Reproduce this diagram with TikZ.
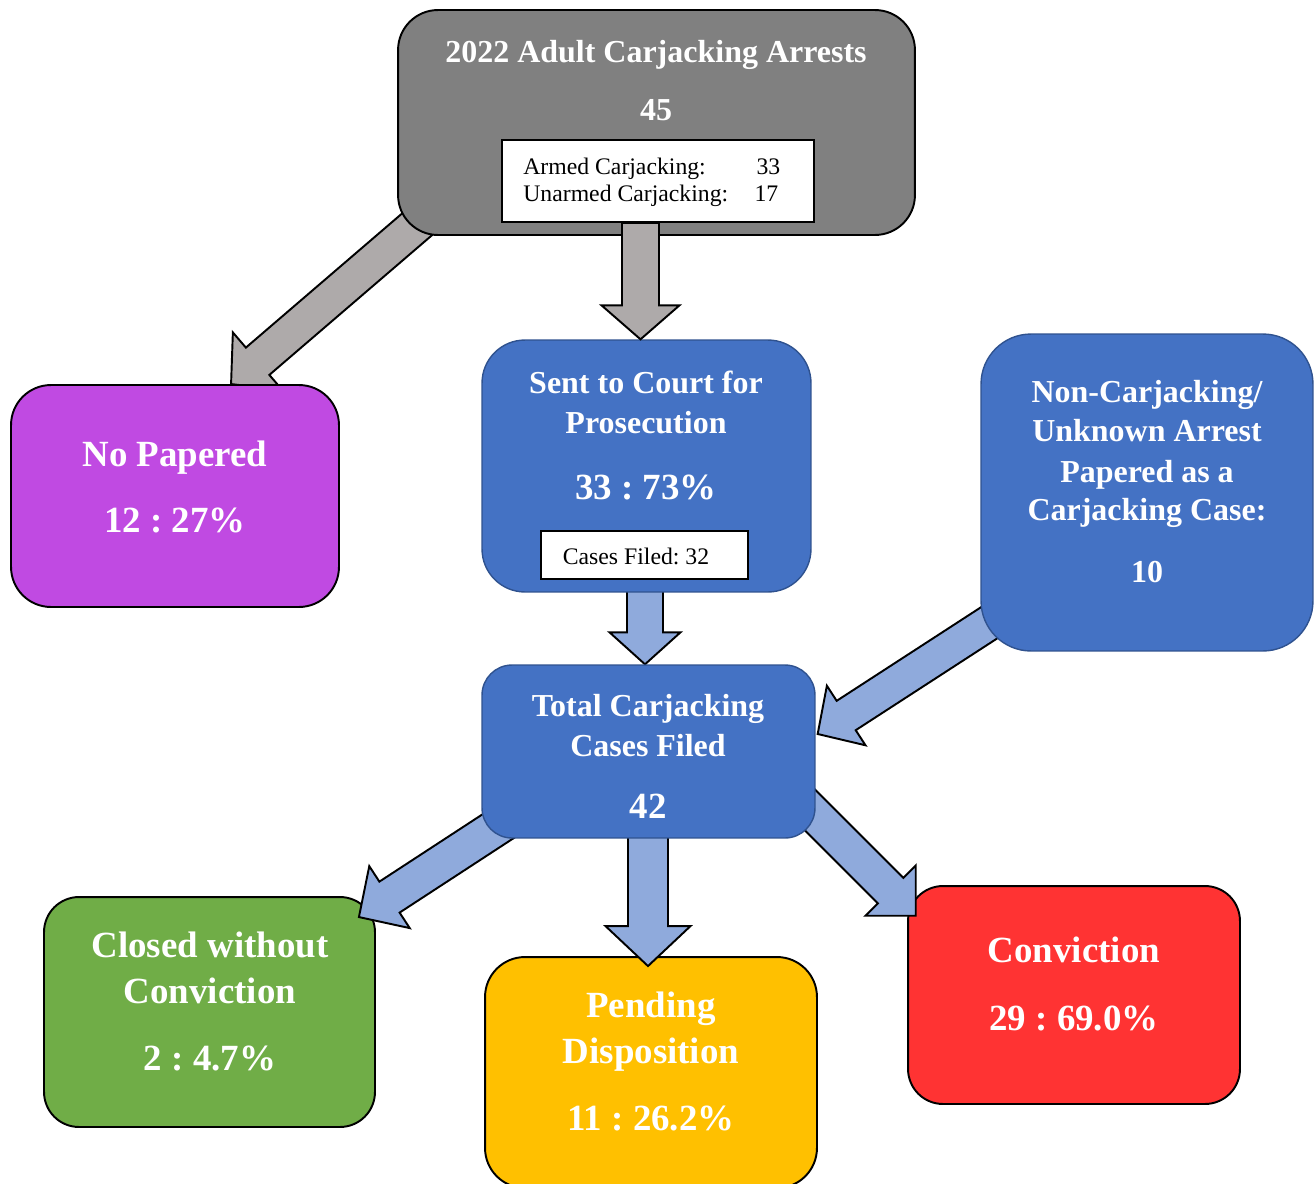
\documentclass[tikz,border=0pt]{standalone}
\usepackage{fontspec}
\setmainfont{Liberation Serif}
\frenchspacing
\usetikzlibrary{calc,backgrounds,positioning}

\definecolor{boxgray}{HTML}{808080}
\definecolor{arrgray}{HTML}{AEAAAA}
\definecolor{papered}{HTML}{C04AE2}
\definecolor{boxblue}{HTML}{4472C4}
\definecolor{boxblueline}{HTML}{2F528F}
\definecolor{arrblue}{HTML}{8FAADC}
\definecolor{closedgreen}{HTML}{70AD47}
\definecolor{pendyellow}{HTML}{FFC000}
\definecolor{convred}{HTML}{FF3333}

\newcommand{\hdfont}{\fontsize{18.2}{22}\selectfont\bfseries}
\newcommand{\numfont}{\fontsize{21}{25}\selectfont\bfseries}
\newcommand{\smfont}{\fontsize{13.5}{16}\selectfont}

\tikzset{
  box/.style={rectangle, rounded corners=0.8cm, draw=black, line width=1.1pt, inner sep=0pt},
  bluebox/.style={box, fill=boxblue, draw=boxblueline, line width=0.8pt},
  whitebox/.style={rectangle, draw=black, line width=1pt, fill=white, inner sep=0pt},
  txt/.style={anchor=base, inner sep=0pt, text=white},
  arrowline/.style={draw=black, line width=1.1pt, line join=miter},
  arr shaft/.store in=\arrshaft, arr head/.store in=\arrhead, arr len/.store in=\arrlen,
  arr shaft=0.36cm, arr head=0.74cm, arr len=0.7cm
}

% block arrow from #2 to the tip #3
\newcommand{\blockarrow}[3][]{%
  \begin{scope}[#1]
    \coordinate (ba-base) at ($(#3)!\arrlen!(#2)$);
    \filldraw[arrowline] ($(#2)!\arrshaft!90:(#3)$) -- ($(ba-base)!\arrshaft!90:(#3)$)
      -- ($(ba-base)!\arrhead!90:(#3)$) -- (#3)
      -- ($(ba-base)!\arrhead!-90:(#3)$) -- ($(ba-base)!\arrshaft!-90:(#3)$)
      -- ($(#2)!\arrshaft!-90:(#3)$) -- cycle;
  \end{scope}}

\begin{document}
\begin{tikzpicture}[x=0.02cm, y=-0.02cm]
\useasboundingbox (0,0) rectangle (1316,1184);
\clip (0,0) rectangle (1316,1184);

% boxes
\node[box, fill=boxgray, minimum width=10.34cm, minimum height=4.5cm] (arrests) at (656.5,122.5) {};
\node[whitebox, minimum width=6.24cm, minimum height=1.64cm] (info) at (658,181) {};
\node[box, fill=papered, minimum width=6.56cm, minimum height=4.44cm] (nopap) at (175,496) {};
\node[bluebox, rounded corners=0.86cm, minimum width=6.58cm, minimum height=5.04cm] (court) at (646.5,466) {};
\node[whitebox, minimum width=4.14cm, minimum height=0.96cm] (filed) at (644.5,555) {};
\node[bluebox, rounded corners=1cm, minimum width=6.64cm, minimum height=6.34cm] (other) at (1147,492.5) {};
\node[bluebox, rounded corners=0.6cm, minimum width=6.66cm, minimum height=3.46cm] (total) at (648.5,751.5) {};

\begin{scope}[on background layer]
\node[box, fill=closedgreen, rounded corners=0.7cm, minimum width=6.62cm, minimum height=4.6cm] (closed) at (209.5,1012) {};
\node[box, fill=pendyellow, minimum width=6.64cm, minimum height=4.62cm] (pending) at (651,1072.5) {};
\node[box, fill=convred, rounded corners=0.7cm, minimum width=6.64cm, minimum height=4.36cm] (conv) at (1074,995) {};

\coordinate (g-from) at ($(arrests.south west)+(60,-46)$);
\coordinate (g-tip) at ($(nopap.north west)+(221,0)$);
\coordinate (c-from) at ($(court.south)+(-1.5,-15)$);
\coordinate (c-tip) at ($(total.north)+(-3.5,0)$);
\coordinate (o-from) at ($(other.south west)+(46,-53)$);
\coordinate (o-tip) at ($(total.east)+(2,-17.5)$);
\coordinate (t-from1) at ($(total.south west)+(85,-57)$);
\coordinate (t-tip1) at ($(closed.north east)+(-17,21)$);
\coordinate (t-from2) at ($(total.south)+(-0.5,-38)$);
\coordinate (t-tip2) at ($(pending.north)+(-3,10)$);
\coordinate (t-from3) at ($(total.south east)+(-75,-98)$);
\coordinate (t-tip3) at ($(conv.north west)+(8.7,30.7)$);

\blockarrow[fill=arrgray, arr len=0.7cm, arr head=0.76cm]{g-from}{g-tip}
\blockarrow[fill=arrblue, arr head=0.71cm, arr len=0.64cm]{c-from}{c-tip}
\blockarrow[fill=arrblue, arr shaft=0.35cm, arr head=0.71cm, arr len=0.68cm]{o-from}{o-tip}
\blockarrow[fill=arrblue, arr shaft=0.37cm, arr len=0.73cm]{t-from1}{t-tip1}
\blockarrow[fill=arrblue, arr shaft=0.4cm, arr head=0.85cm, arr len=0.8cm]{t-from2}{t-tip2}
\blockarrow[fill=arrblue, arr head=0.71cm, arr len=0.71cm]{t-from3}{t-tip3}
\end{scope}

\coordinate (d-from) at ($(info.south)+(-17.5,0)$);
\coordinate (d-tip) at ($(court.north)+(-6,0)$);
\blockarrow[fill=arrgray, arr shaft=0.37cm, arr head=0.78cm, arr len=0.68cm]{d-from}{d-tip}

% texts
\node[txt, font=\hdfont] (arrests-t) at (656,62) {2022 Adult Carjacking Arrests};
\node[txt, font=\hdfont] (arrests-n) at (656,120) {45};
\node[anchor=base west, inner sep=0pt, font=\smfont] (info-a) at (523,174) {\makebox[5.14cm][l]{Armed Carjacking:\hfill 33}};
\node[anchor=base west, inner sep=0pt, font=\smfont] (info-u) at (523,201) {\makebox[5.1cm][l]{Unarmed Carjacking:\hfill 17}};

\node[txt, font=\numfont] (nopap-t) at (175,466) {No Papered};
\node[txt, font=\numfont] (nopap-n) at (175,532) {12 : 27\%};

\node[txt, font=\hdfont] (court-t1) at (646,393) {Sent to Court for};
\node[txt, font=\hdfont] (court-t2) at (646,433) {Prosecution};
\node[txt, font=\numfont] (court-n) at (646,499) {33 : 73\%};
\node[anchor=base, inner sep=0pt, font=\smfont] (filed-t) at (636,564) {Cases Filed: 32};

\node[txt, font=\hdfont] (other-t1) at (1147,402) {Non-Carjacking/};
\node[txt, font=\hdfont] (other-t2) at (1147,441) {Unknown Arrest};
\node[txt, font=\hdfont] (other-t3) at (1147,482) {Papered as a};
\node[txt, font=\hdfont] (other-t4) at (1147,520) {Carjacking Case:};
\node[txt, font=\hdfont] (other-n) at (1147,582) {10};

\node[txt, font=\hdfont] (total-t1) at (648,716) {Total Carjacking};
\node[txt, font=\hdfont] (total-t2) at (648,756) {Cases Filed};
\node[txt, font=\numfont] (total-n) at (648,818) {42};

\node[txt, font=\numfont] (closed-t1) at (210,957) {Closed without};
\node[txt, font=\numfont] (closed-t2) at (210,1003) {Conviction};
\node[txt, font=\numfont] (closed-n) at (210,1070) {2 : 4.7\%};

\node[txt, font=\numfont] (pending-t1) at (651,1017) {Pending};
\node[txt, font=\numfont] (pending-t2) at (651,1063) {Disposition};
\node[txt, font=\numfont] (pending-n) at (651,1130) {11 : 26.2\%};

\node[txt, font=\numfont] (conv-t) at (1074,962) {Conviction};
\node[txt, font=\numfont] (conv-n) at (1074,1030) {29 : 69.0\%};
\end{tikzpicture}
\end{document}
